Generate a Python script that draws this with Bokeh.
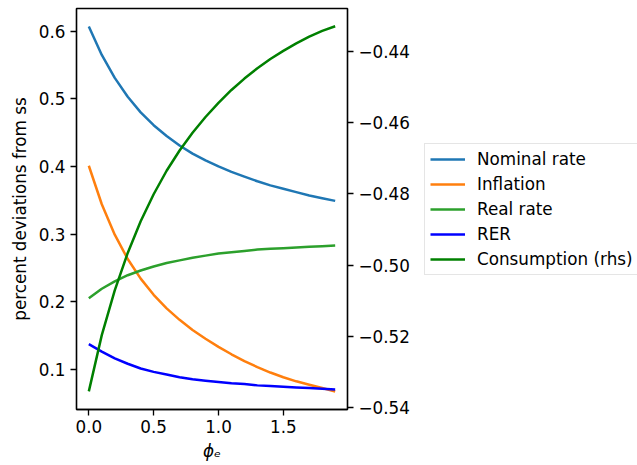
from bokeh.plotting import figure
from bokeh.layouts import row
from bokeh.models import (Range1d, LinearAxis, FixedTicker, CustomJSTickFormatter,
                          Legend, LegendItem)
from bokeh.embed import file_html
from bokeh.resources import INLINE

phi_e = [0.0, 0.1, 0.2, 0.3, 0.4, 0.5, 0.6, 0.7, 0.8, 0.9,
         1.0, 1.1, 1.2, 1.3, 1.4, 1.5, 1.6, 1.7, 1.8, 1.9]
nominal = [0.607, 0.565, 0.531, 0.503, 0.480, 0.461, 0.445, 0.431, 0.419, 0.409,
           0.400, 0.392, 0.385, 0.378, 0.372, 0.367, 0.362, 0.357, 0.353, 0.349]
inflation = [0.401, 0.344, 0.299, 0.263, 0.234, 0.210, 0.190, 0.173, 0.158, 0.145,
             0.133, 0.122, 0.112, 0.103, 0.095, 0.088, 0.082, 0.077, 0.072, 0.067]
real_rate = [0.205, 0.219, 0.230, 0.239, 0.246, 0.252, 0.257, 0.261, 0.265, 0.268,
             0.271, 0.273, 0.275, 0.277, 0.278, 0.279, 0.280, 0.281, 0.282, 0.283]
rer = [0.137, 0.126, 0.116, 0.108, 0.101, 0.096, 0.092, 0.088, 0.085, 0.083,
       0.081, 0.079, 0.078, 0.076, 0.075, 0.074, 0.073, 0.072, 0.071, 0.070]
consumption = [-0.5355, -0.5197, -0.5071, -0.4966, -0.4877, -0.4801, -0.4735, -0.4678,
               -0.4628, -0.4584, -0.4544, -0.4508, -0.4476, -0.4447, -0.4421, -0.4398,
               -0.4377, -0.4358, -0.4342, -0.4329]

labels = ["Nominal rate", "Inflation", "Real rate", "RER", "Consumption (rhs)"]
colors = ["#1f77b4", "#ff7f0e", "#2ca02c", "#0000ff", "#008000"]

x_ticks = [0.0, 0.5, 1.0, 1.5]
left_ticks = [0.1, 0.2, 0.3, 0.4, 0.5, 0.6]
right_ticks = [-0.54, -0.52, -0.50, -0.48, -0.46, -0.44]

FONT = "DejaVu Sans"
FS = "16.8px"
LW = 2.5

p = figure(width=422, height=465, output_backend="svg", toolbar_location=None,
           x_range=Range1d(-0.095, 1.995), y_range=Range1d(0.0403, 0.6337),
           min_border_left=76, min_border_right=75, min_border_top=8,
           min_border_bottom=56)
p.extra_y_ranges = {"rhs": Range1d(-0.5406, -0.4279)}
p.grid.visible = False
p.outline_line_color = "black"
p.outline_line_width = 1.33
p.background_fill_color = "white"
p.border_fill_color = "white"

series = [nominal, inflation, real_rate, rer]
for vals, col in zip(series, colors[:4]):
    p.line(phi_e, vals, line_color=col, line_width=LW)
p.line(phi_e, consumption, line_color=colors[4], line_width=LW, y_range_name="rhs")

raxis = LinearAxis(y_range_name="rhs")
p.add_layout(raxis, "right")


def style_axis(ax, ticks, code):
    ax.ticker = FixedTicker(ticks=ticks)
    ax.formatter = CustomJSTickFormatter(code=code)
    ax.minor_tick_line_color = None
    ax.major_tick_in = 0
    ax.major_tick_out = 6
    ax.major_tick_line_width = 1.33
    ax.major_tick_line_color = "black"
    ax.axis_line_color = "black"
    ax.axis_line_width = 1.33
    ax.major_label_text_font = FONT
    ax.major_label_text_font_size = FS
    ax.major_label_text_color = "black"
    ax.axis_label_text_font = FONT
    ax.axis_label_text_font_size = FS
    ax.axis_label_text_color = "black"


fmt1 = "return (tick < 0 ? '\u2212' : '') + Math.abs(tick).toFixed(1);"
fmt2 = "return (tick < 0 ? '\u2212' : '') + Math.abs(tick).toFixed(2);"

style_axis(p.xaxis[0], x_ticks, fmt1)
style_axis(p.yaxis[0], left_ticks, fmt1)
style_axis(raxis, right_ticks, fmt2)

p.xaxis[0].axis_label = "\u03d5\u2091"
p.xaxis[0].axis_label_text_font_style = "italic"
p.xaxis[0].major_label_standoff = 4
p.xaxis[0].axis_label_standoff = 5
p.yaxis[0].axis_label = "percent deviations from ss"
p.yaxis[0].axis_label_text_font_style = "normal"
p.yaxis[0].major_label_standoff = 5
p.yaxis[0].axis_label_standoff = 6
raxis.major_label_standoff = 5

# legend panel (outside the axes, as in the reference); its lines lie outside
# this panel's visible ranges, so only the legend shows
p2 = figure(width=215, height=465, output_backend="svg", toolbar_location=None,
            x_axis_type=None, y_axis_type=None,
            x_range=Range1d(10, 11), y_range=Range1d(10, 11),
            min_border=0)
p2.grid.visible = False
p2.outline_line_color = None
p2.background_fill_color = "white"
p2.border_fill_color = "white"
items = []
for lab, vals, col in zip(labels, series + [consumption], colors):
    r = p2.line(phi_e, vals, line_color=col, line_width=LW)
    items.append(LegendItem(label=lab, renderers=[r]))

legend = Legend(items=items, location=(2, 134))
legend.label_text_font = FONT
legend.label_text_font_size = FS
legend.label_text_color = "black"
legend.glyph_width = 35
legend.glyph_height = 20
legend.label_height = 20
legend.label_standoff = 12
legend.spacing = 5
legend.padding = 5
legend.margin = 0
legend.border_line_color = "#cccccc"
legend.border_line_width = 1.3
legend.background_fill_alpha = 0.8
p2.add_layout(legend, "center")

open("out.html", "w").write(file_html(row(p, p2), INLINE))
